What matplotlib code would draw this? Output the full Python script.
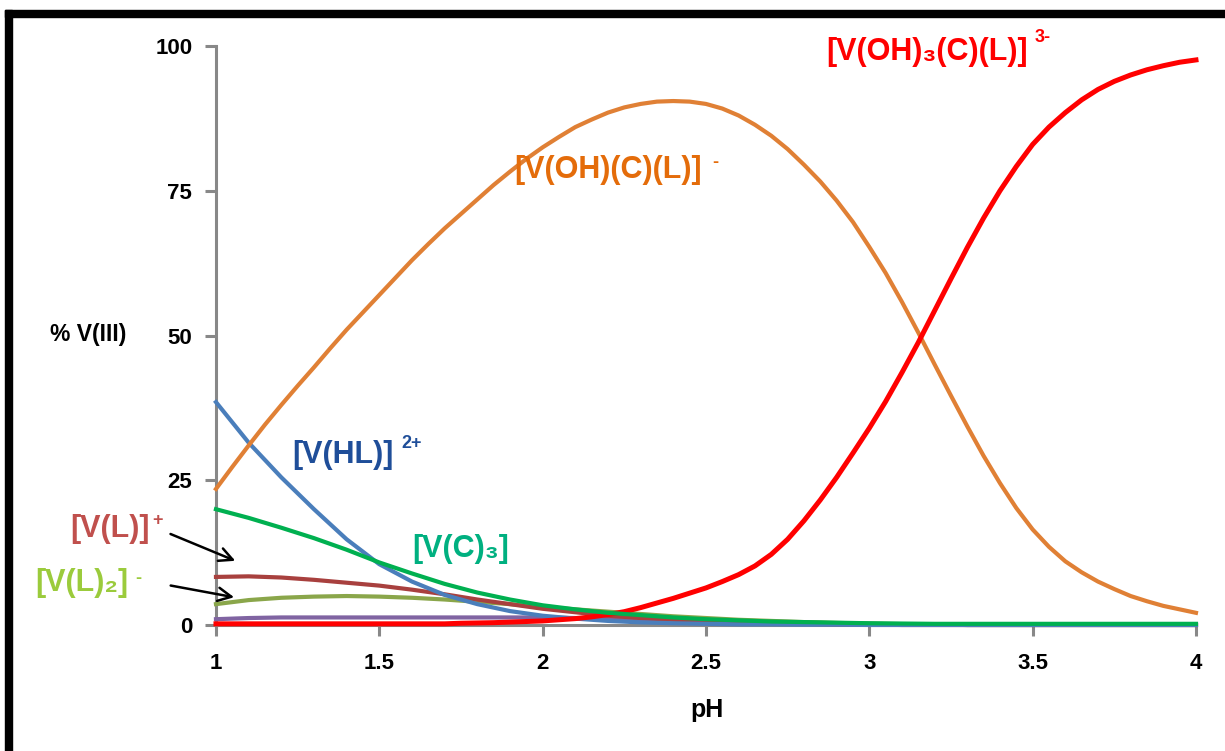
import numpy as np
import matplotlib
matplotlib.use("Agg")
import matplotlib.pyplot as plt
from matplotlib.patches import Rectangle

plt.rcParams['font.family'] = ['Liberation Sans', 'DejaVu Sans']

# pH grid and % V(III) for each species
ph = [1.0, 1.1, 1.2, 1.3, 1.4, 1.5, 1.6, 1.7, 1.8, 1.9, 2.0,
      2.1, 2.2, 2.3, 2.4, 2.5, 2.6, 2.7, 2.8, 2.9, 3.0,
      3.1, 3.2, 3.3, 3.4, 3.5, 3.6, 3.7, 3.8, 3.9, 4.0]
# finer grid for the two big curves
ph_fine = [1.00, 1.05, 1.10, 1.15, 1.20, 1.25, 1.30, 1.35, 1.40, 1.45,
           1.50, 1.55, 1.60, 1.65, 1.70, 1.75, 1.80, 1.85, 1.90, 1.95,
           2.00, 2.05, 2.10, 2.15, 2.20, 2.25, 2.30, 2.35, 2.40, 2.45,
           2.50, 2.55, 2.60, 2.65, 2.70, 2.75, 2.80, 2.85, 2.90, 2.95,
           3.00, 3.05, 3.10, 3.15, 3.20, 3.25, 3.30, 3.35, 3.40, 3.45,
           3.50, 3.55, 3.60, 3.65, 3.70, 3.75, 3.80, 3.85, 3.90, 3.95,
           4.00]

v_oh_c_l = [23.5, 27.3, 31, 34.6, 38, 41.3, 44.5, 47.8, 51, 54,
            57, 60, 63, 65.8, 68.5, 71, 73.5, 76, 78.3, 80.5,
            82.5, 84.3, 86, 87.3, 88.5, 89.4, 90, 90.4, 90.5, 90.4,
            90, 89.2, 88, 86.4, 84.5, 82.2, 79.5, 76.6, 73.3, 69.6,
            65.3, 60.8, 55.8, 50.5, 45, 39.6, 34.3, 29.2, 24.5, 20.2,
            16.5, 13.5, 11, 9.1, 7.5, 6.2, 5, 4.1, 3.3, 2.7,
            2.1]
v_oh3_c_l = [0.2, 0.2, 0.2, 0.2, 0.2, 0.2, 0.2, 0.2, 0.2, 0.2,
             0.2, 0.2, 0.2, 0.2, 0.2, 0.3, 0.35, 0.4, 0.5, 0.6,
             0.7, 0.9, 1.1, 1.4, 1.8, 2.3, 3.0, 3.8, 4.6, 5.5,
             6.4, 7.5, 8.7, 10.2, 12.2, 14.8, 18, 21.6, 25.5, 29.7,
             34, 38.6, 43.6, 48.8, 54.3, 59.8, 65.2, 70.3, 75, 79.2,
             83, 86, 88.5, 90.7, 92.5, 93.9, 95, 95.9, 96.6, 97.2,
             97.6]
v_hl = [38.5, 31.5, 25.5, 20, 14.8, 10.5, 7.5, 5.2, 3.6, 2.4, 1.6,
        1.1, 0.7, 0.45, 0.3, 0.2, 0.1, 0.1, 0.05, 0.05, 0,
        0, 0, 0, 0, 0, 0, 0, 0, 0, 0]
v_c3 = [20, 18.5, 16.8, 15, 13, 10.8, 8.9, 7.1, 5.6, 4.4, 3.4,
        2.7, 2.1, 1.7, 1.3, 1.0, 0.8, 0.6, 0.5, 0.4, 0.3,
        0.25, 0.2, 0.2, 0.2, 0.2, 0.2, 0.2, 0.2, 0.2, 0.2]
v_l = [8.3, 8.4, 8.2, 7.8, 7.3, 6.8, 6.1, 5.3, 4.4, 3.6, 2.8,
       2.2, 1.6, 1.2, 0.9, 0.6, 0.4, 0.3, 0.2, 0.1, 0.1,
       0, 0, 0, 0, 0, 0, 0, 0, 0, 0]
v_l2 = [3.6, 4.3, 4.7, 4.9, 5.0, 4.9, 4.7, 4.4, 4.0, 3.6, 3.1,
        2.7, 2.3, 1.9, 1.5, 1.2, 0.9, 0.7, 0.5, 0.35, 0.25,
        0.15, 0.1, 0, 0, 0, 0, 0, 0, 0, 0]
v_other = [1.0, 1.2, 1.3, 1.3, 1.3, 1.3, 1.3, 1.3, 1.3, 1.3, 1.3,
           1.2, 1.1, 1.0, 0.9, 0.8, 0.6, 0.5, 0.4, 0.3, 0.2,
           0.1, 0.1, 0, 0, 0, 0, 0, 0, 0, 0]

x_ticks = [1, 1.5, 2, 2.5, 3, 3.5, 4]
x_ticklabels = ['1', '1.5', '2', '2.5', '3', '3.5', '4']
y_ticks = [0, 25, 50, 75, 100]

fig = plt.figure(figsize=(12.25, 7.51), dpi=100)
ax = fig.add_axes([0.1763, 0.1678, 0.8000, 0.7709])

lw = 3.0
ax.plot(ph, v_other, color='#8064A2', lw=lw, clip_on=False, zorder=3)
ax.plot(ph_fine, v_oh3_c_l, color='#FF0000', lw=3.6, clip_on=False, zorder=4)
ax.plot(ph, v_l2, color='#8AA64A', lw=lw, clip_on=False, zorder=3)
ax.plot(ph, v_l, color='#A8403E', lw=lw, clip_on=False, zorder=3)
ax.plot(ph, v_hl, color='#4A7EBB', lw=lw, clip_on=False, zorder=3)
ax.plot(ph, v_c3, color='#00B050', lw=lw, clip_on=False, zorder=5)
ax.plot(ph_fine, v_oh_c_l, color='#E08035', lw=lw, clip_on=False, zorder=3)

ax.set_xlim(1, 4)
ax.set_ylim(0, 100)
ax.set_xticks(x_ticks)
ax.set_xticklabels(x_ticklabels)
ax.set_yticks(y_ticks)
for s in ['top', 'right']:
    ax.spines[s].set_visible(False)
for s in ['left', 'bottom']:
    ax.spines[s].set_color('#888888')
    ax.spines[s].set_linewidth(2.2)
ax.tick_params(axis='both', colors='#888888', width=2.2, length=8,
               labelcolor='black', labelsize=16)
ax.tick_params(axis='x', pad=12)
ax.tick_params(axis='y', pad=9)
for t in ax.get_xticklabels() + ax.get_yticklabels():
    t.set_fontweight('bold')

fig.text(0.041, 0.554, '% V(III)', fontsize=16.5, fontweight='bold', va='center')
fig.text(0.577, 0.054, 'pH', fontsize=18, fontweight='bold', va='center', ha='center')

# species labels
kw = dict(fontsize=22, fontweight='bold', va='center', clip_on=False)
sup = dict(fontsize=13, fontweight='bold', va='center', clip_on=False)
ax.text(1.912, 78.6, '[V(OH)(C)(L)]', color='#E46C0A', **kw)
ax.text(2.52, 79.8, '-', color='#E46C0A', **sup)
ax.text(2.867, 99.0, '[V(OH)\u2083(C)(L)]', color='#FF0000', **kw)
ax.text(3.507, 101.4, '3-', color='#FF0000', **sup)
ax.text(1.233, 29.4, '[V(HL)]', color='#1F4E99', **kw)
ax.text(1.569, 31.3, '2+', color='#1F4E99', **sup)
ax.text(1.60, 13.1, '[V(C)\u2083]', color='#00B080', **kw)
ax.text(0.553, 16.6, '[V(L)]', color='#C0504D', **kw)
ax.text(0.804, 18.0, '+', color='#C0504D', **sup)
ax.text(0.446, 7.25, '[V(L)\u2082]', color='#9BCB3C', **kw)
ax.text(0.752, 8.1, '-', color='#9BCB3C', **sup)

arrow = dict(arrowstyle='->', color='black', lw=1.8, mutation_scale=24)
ax.annotate('', xy=(1.067, 10.9), xytext=(0.853, 15.9), arrowprops=arrow,
            annotation_clip=False)
ax.annotate('', xy=(1.064, 4.7), xytext=(0.853, 6.9), arrowprops=arrow,
            annotation_clip=False)

# black frame along top and left edge of the screenshot
fig.add_artist(Rectangle((5 / 1225, 0), 7 / 1225, 1 - 10 / 751,
                         transform=fig.transFigure, color='black', zorder=10))
fig.add_artist(Rectangle((5 / 1225, 1 - 17 / 751), 1, 7 / 751,
                         transform=fig.transFigure, color='black', zorder=10))

fig.savefig('out.png', dpi=100, facecolor='white')
